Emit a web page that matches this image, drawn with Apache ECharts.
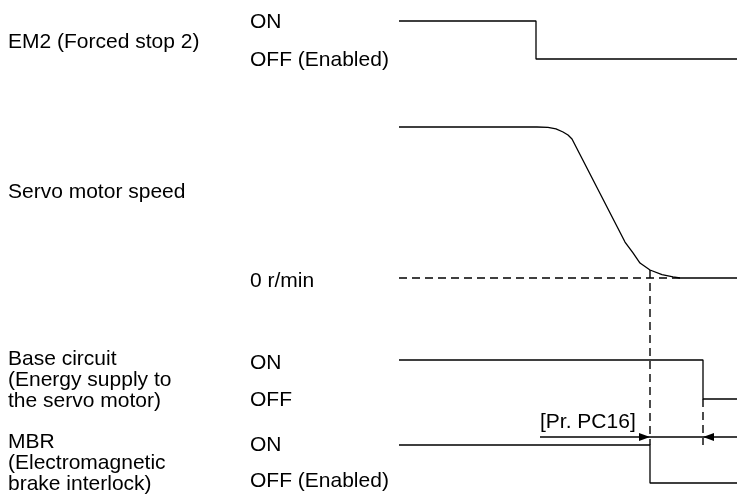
<!DOCTYPE html>
<html>
<head>
<meta charset="utf-8">
<script src="https://cdn.jsdelivr.net/npm/echarts@6/dist/echarts.min.js"></script>
<style>html,body{margin:0;padding:0;background:#fff;}#chart{width:737px;height:495px;}</style>
</head>
<body>
<div id="chart"></div>
<script>
// ---- data (time units along the x axis, levels 1 = ON, 0 = OFF) ----
const tEnd = 338;
const tEm2Off = 137;
const tMbrOff = 251;
const tBaseOff = 304;
const em2Signal = [[0, 1], [tEm2Off, 1], [tEm2Off, 0], [tEnd, 0]];
const baseSignal = [[0, 1], [tBaseOff, 1], [tBaseOff, 0], [tEnd, 0]];
const mbrSignal = [[0, 1], [tMbrOff, 1], [tMbrOff, 0], [tEnd, 0]];
const speedTime = [0, 138, 149, 157, 164, 169, 173, 226, 234, 241, 251, 263, 274, 281, 338];
const speedPct = [100, 100, 99.7, 98.7, 96.7, 94.7, 92.1, 23.8, 16.6, 9.9, 5.3, 2.3, 0.7, 0, 0];
const tZeroReached = 281;
const paramLabel = '[Pr. PC16]';
const paramStart = 141;

// ---- layout ----
const lanes = {
  em2: { hi: 21, lo: 59 },
  speed: { hi: 127, lo: 278 },
  base: { hi: 360, lo: 399 },
  mbr: { hi: 445, lo: 483 }
};
const arrowRow = 437;
const FONT = '21px "Liberation Sans", Arial, sans-serif';

function lane(name, level) { const l = lanes[name]; return l.lo + (l.hi - l.lo) * level; }
function mapSignal(name, sig) { return sig.map(p => [p[0], lane(name, p[1])]); }
const speedData = speedTime.map((t, i) => [t, lane('speed', speedPct[i] / 100)]);
const speedAtMbr = speedPct[speedTime.indexOf(tMbrOff)] / 100;

const solid = { color: '#000', width: 1.3 };
const dashed = { color: '#000', width: 1.4, type: [8, 5] };
function lineSeries(data, style) {
  return { type: 'line', data, showSymbol: false, symbol: 'none', lineStyle: style, silent: true, animation: false, z: 3 };
}

const chart = echarts.init(document.getElementById('chart'), null, { renderer: 'canvas' });
const texts = [
  ['EM2 (Forced stop 2)', 8, 42],
  ['ON', 250, 22], ['OFF (Enabled)', 250, 60],
  ['Servo motor speed', 8, 192],
  ['0 r/min', 250, 281],
  ['Base circuit\n(Energy supply to\nthe servo motor)', 8, 380],
  ['ON', 250, 363], ['OFF', 250, 400],
  ['MBR\n(Electromagnetic\nbrake interlock)', 8, 463],
  ['ON', 250, 445], ['OFF (Enabled)', 250, 481]
];
chart.setOption({
  animation: false,
  grid: { left: 399, right: 0, top: 0, bottom: 0, containLabel: false },
  xAxis: { type: 'value', min: 0, max: tEnd, show: false },
  yAxis: { type: 'value', min: 0, max: 495, inverse: true, show: false },
  graphic: texts.map(t => ({
    type: 'text', x: t[1], y: t[2], silent: true,
    style: { text: t[0], font: FONT, fill: '#000', verticalAlign: 'middle', align: 'left', lineHeight: 21 }
  })),
  series: [
    lineSeries(mapSignal('em2', em2Signal), solid),
    lineSeries([[0, lane('speed', 0)], [tZeroReached, lane('speed', 0)]], dashed),
    lineSeries(speedData, solid),
    lineSeries(mapSignal('base', baseSignal), solid),
    lineSeries(mapSignal('mbr', mbrSignal), solid),
    lineSeries([[tMbrOff, lane('speed', speedAtMbr)], [tMbrOff, lane('mbr', 1)]], dashed),
    lineSeries([[tBaseOff, lane('base', 0)], [tBaseOff, lane('mbr', 1)]], dashed),
    lineSeries([[paramStart, arrowRow], [tEnd, arrowRow]], { color: '#000', width: 1.3 }),
    {
      type: 'scatter', silent: true, animation: false, z: 4,
      symbol: 'triangle', symbolSize: [8, 11],
      itemStyle: { color: '#000', opacity: 1 },
      data: [
        { value: [tMbrOff, arrowRow], symbolRotate: -90, symbolOffset: [-5.5, 0] },
        { value: [tBaseOff, arrowRow], symbolRotate: 90, symbolOffset: [5.5, 0] }
      ],
      label: { show: false }
    },
    {
      type: 'scatter', silent: true, animation: false, symbolSize: 0,
      itemStyle: { opacity: 1 },
      data: [[paramStart, arrowRow - 15]],
      label: { show: true, position: 'right', distance: 0, formatter: paramLabel, color: '#000', opacity: 1, fontSize: 21, fontFamily: '"Liberation Sans", Arial, sans-serif' }
    }
  ]
});
</script>
</body>
</html>
